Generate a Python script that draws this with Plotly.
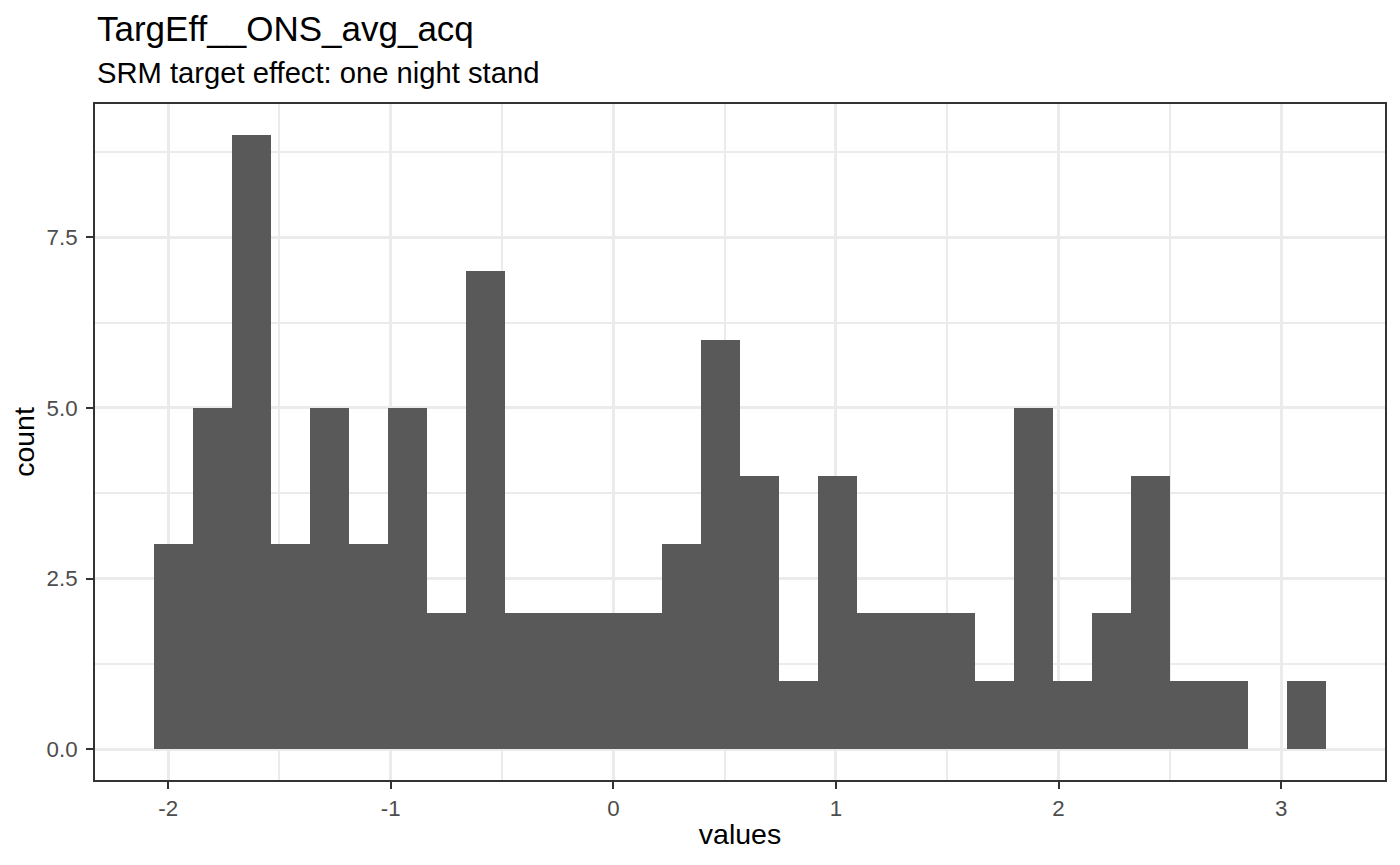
import plotly.graph_objects as go

# histogram of SRM target effects (30 bins)
bin_start = -2.065
bin_width = 0.1756
counts = [3, 5, 9, 3, 5, 3, 5, 2, 7, 2,
          2, 2, 2, 3, 6, 4, 1, 4, 2, 2,
          2, 1, 5, 1, 2, 4, 1, 1, 0, 1]
centers = [bin_start + bin_width * (i + 0.5) for i in range(len(counts))]

x_ticks = [-2, -1, 0, 1, 2, 3]
y_ticks = [0, 2.5, 5, 7.5]

title = "TargEff__ONS_avg_acq"
subtitle = "SRM target effect: one night stand"

font = "Liberation Sans, Arial, Helvetica, sans-serif"
grid = "#EBEBEB"

# page has an 8px body margin, so the figure is 8px smaller than the window
W, H = 1392, 857
L, T, R, B = 87, 96, 15, 85
plot_h = H - T - B

fig = go.Figure()
fig.add_trace(go.Bar(
    x=centers, y=counts, width=bin_width,
    marker=dict(color="#595959", line=dict(width=0)),
    hoverinfo="x+y",
))

lo = bin_start
hi = bin_start + bin_width * len(counts)
pad = (hi - lo) * 0.05

fig.update_layout(
    width=W, height=H,
    margin=dict(l=L, r=R, t=T, b=B),
    paper_bgcolor="white", plot_bgcolor="white",
    font=dict(family=font, color="#000000"),
    showlegend=False,
    bargap=0,
    annotations=[
        dict(text=title, x=0, xref="paper", xanchor="left",
             y=1 + (T - 20.5) / plot_h, yref="paper", yanchor="middle",
             showarrow=False, font=dict(size=35, color="#000000")),
        dict(text=subtitle, x=0, xref="paper", xanchor="left",
             y=1 + (T - 64.5) / plot_h, yref="paper", yanchor="middle",
             showarrow=False, font=dict(size=29.2, color="#000000")),
    ],
)

fig.update_xaxes(
    range=[lo - pad, hi + pad],
    tickmode="array", tickvals=x_ticks, ticktext=[str(v) for v in x_ticks],
    ticks="outside", ticklen=7, tickwidth=2.4, tickcolor="#333333",
    tickfont=dict(size=22.3, color="#4D4D4D"),
    showgrid=True, gridcolor=grid, gridwidth=3.2,
    minor=dict(dtick=0.5, tick0=0, showgrid=True, gridcolor=grid, gridwidth=1.6, ticks=""),
    zeroline=False,
    showline=True, mirror=True, linecolor="#333333", linewidth=2,
    title=dict(text="values", font=dict(size=28.5, color="#000000"), standoff=4),
)
fig.update_yaxes(
    range=[-0.45, 9.45],
    tickmode="array", tickvals=y_ticks, ticktext=["%.1f" % v for v in y_ticks],
    ticks="outside", ticklen=7, tickwidth=2.4, tickcolor="#333333",
    tickfont=dict(size=22.3, color="#4D4D4D"),
    ticklabelstandoff=4,
    showgrid=True, gridcolor=grid, gridwidth=3.2,
    minor=dict(dtick=1.25, tick0=0, showgrid=True, gridcolor=grid, gridwidth=1.6, ticks=""),
    zeroline=False,
    showline=True, mirror=True, linecolor="#333333", linewidth=2,
    title=dict(text="count", font=dict(size=28.5, color="#000000"), standoff=4),
)

fig.write_html("out.html")
